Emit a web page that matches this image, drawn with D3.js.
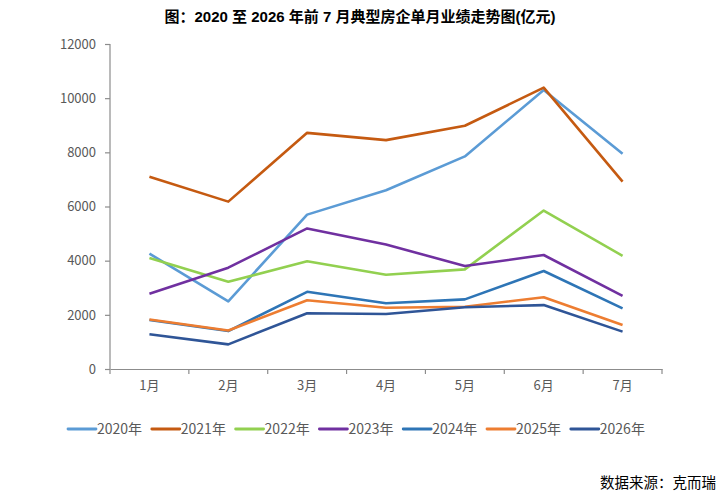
<!DOCTYPE html>
<html>
<head>
<meta charset="utf-8">
<script src="https://cdn.jsdelivr.net/npm/d3@7"></script>
<style>
  body { margin: 0; background: #fff; }
  text { font-family: "Liberation Sans Narrow", "Noto Sans CJK SC", sans-serif; }
</style>
</head>
<body>
<svg class="chart" width="719" height="500"></svg>
<script>
// months and yearly series (亿元)
var months = ["1月", "2月", "3月", "4月", "5月", "6月", "7月"];
var years = ["2020年", "2021年", "2022年", "2023年", "2024年", "2025年", "2026年"];
var colors = ["#5B9BD5", "#C55A11", "#92D050", "#7030A0", "#2E75B6", "#ED7D31", "#2F5597"];
var v2020 = [4260, 2500, 5700, 6600, 7850, 10300, 7950];
var v2021 = [7100, 6180, 8720, 8450, 8980, 10390, 6920];
var v2022 = [4100, 3220, 3980, 3480, 3680, 5850, 4180];
var v2023 = [2780, 3740, 5190, 4600, 3800, 4210, 2700];
var v2024 = [1810, 1400, 2850, 2430, 2570, 3620, 2240];
var v2025 = [1830, 1420, 2540, 2260, 2300, 2650, 1625];
var v2026 = [1280, 910, 2060, 2030, 2280, 2360, 1380];
var yTicks = [0, 2000, 4000, 6000, 8000, 10000, 12000];

var series = [v2020, v2021, v2022, v2023, v2024, v2025, v2026];

var svg = d3.select("svg.chart");
var plotL = 110, plotR = 662, plotT = 44, plotB = 369;

var x = d3.scaleBand().domain(months).range([plotL, plotR]);
var y = d3.scaleLinear().domain([0, 12000]).range([plotB, plotT]);

// title
svg.append("text")
    .attr("x", 360).attr("y", 22)
    .attr("text-anchor", "middle")
    .style("font-family", "'Liberation Sans', 'Noto Sans CJK SC', sans-serif")
    .style("font-size", "15px").style("font-weight", "bold")
    .style("fill", "#000")
    .text("图：2020 至 2026 年前 7 月典型房企单月业绩走势图(亿元)");

// y axis
var yAxis = svg.append("g")
    .attr("transform", "translate(" + plotL + ",0)")
    .call(d3.axisLeft(y).tickValues(yTicks).tickFormat(d3.format("d")).tickSize(5).tickPadding(9));

// x axis
var xAxis = svg.append("g")
    .attr("transform", "translate(0," + plotB + ")")
    .call(d3.axisBottom(x).tickSize(0).tickPadding(12));

// x ticks at band edges
var edges = months.map(function(m) { return x(m); }).concat([plotR]);
xAxis.selectAll("line.edge")
    .data(edges)
  .enter().append("line")
    .attr("class", "edge")
    .attr("x1", function(d) { return d; })
    .attr("x2", function(d) { return d; })
    .attr("y1", 0).attr("y2", 5);

[yAxis, xAxis].forEach(function(g) {
  g.select(".domain").attr("stroke", "#8c8c8c").attr("stroke-width", 1.2);
  g.selectAll("line").attr("stroke", "#8c8c8c").attr("stroke-width", 1.2);
  g.selectAll("text").style("font-size", "13px").style("fill", "#595959")
    .style("font-family", "'Liberation Sans Narrow', 'Noto Sans CJK SC', sans-serif");
});
yAxis.select(".domain").attr("d", "M0," + y(12000) + "V" + plotB);

// lines
var line = d3.line()
    .x(function(d, i) { return x(months[i]) + x.bandwidth() / 2; })
    .y(function(d) { return y(d); });

svg.selectAll("path.series")
    .data(series)
  .enter().append("path")
    .attr("class", "series")
    .attr("fill", "none")
    .attr("stroke", function(d, i) { return colors[i]; })
    .attr("stroke-width", 2.6)
    .attr("stroke-linejoin", "round")
    .attr("d", line);

// legend
var legend = svg.selectAll("g.legend")
    .data(years)
  .enter().append("g")
    .attr("class", "legend")
    .attr("transform", function(d, i) { return "translate(" + (68 + i * 83.8) + ",429)"; });

legend.append("line")
    .attr("x1", 0).attr("x2", 28)
    .attr("stroke", function(d, i) { return colors[i]; })
    .attr("stroke-width", 2.8)
    .attr("stroke-linecap", "round");

legend.append("text")
    .attr("x", 29).attr("y", 5)
    .style("font-size", "14px").style("fill", "#595959")
    .text(function(d) { return d; });

// source
svg.append("text")
    .attr("x", 716).attr("y", 488)
    .attr("text-anchor", "end")
    .style("font-size", "14.5px").style("fill", "#000")
    .text("数据来源：克而瑞");
</script>
</body>
</html>
